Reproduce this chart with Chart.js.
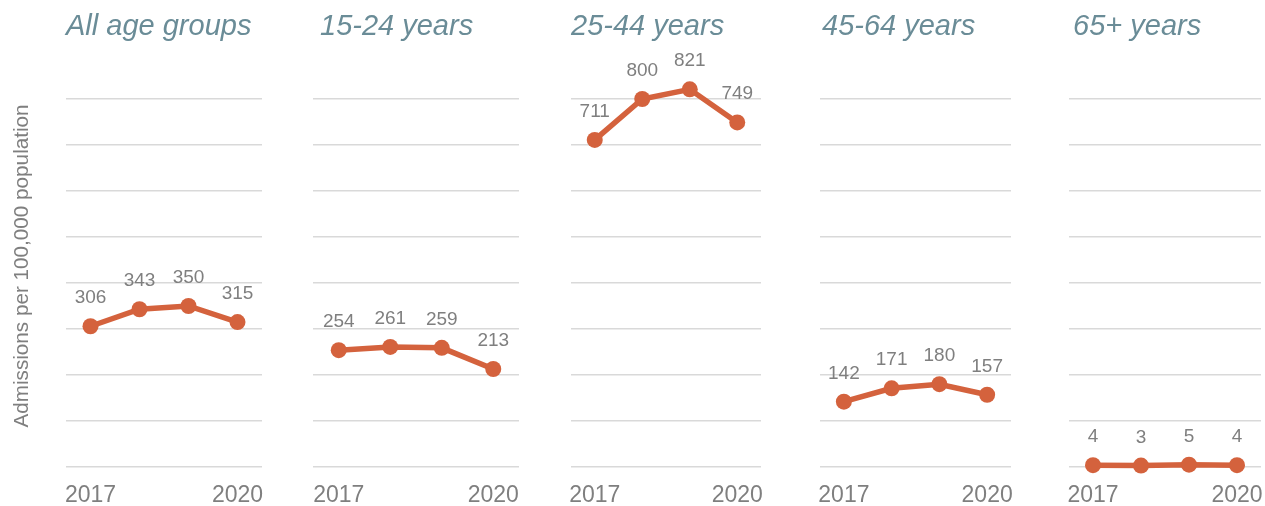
<!DOCTYPE html>
<html>
<head>
<meta charset="utf-8">
<script src="https://cdn.jsdelivr.net/npm/chart.js@4"></script>
<style>
  html, body { margin: 0; padding: 0; background: #fff; }
  body { width: 1265px; height: 506px; position: relative; overflow: hidden; }
  canvas { position: absolute; top: 0; }
</style>
</head>
<body>
<canvas id="c0"></canvas>
<canvas id="c1"></canvas>
<canvas id="c2"></canvas>
<canvas id="c3"></canvas>
<canvas id="c4"></canvas>
<script>
// Data
const years = ['2017', '2018', '2019', '2020'];
const groups = ['All age groups', '15-24 years', '25-44 years', '45-64 years', '65+ years'];
const allAges = [306, 343, 350, 315];
const age15to24 = [254, 261, 259, 213];
const age25to44 = [711, 800, 821, 749];
const age45to64 = [142, 171, 180, 157];
const age65plus = [4, 3, 5, 4];
const seriesList = [allAges, age15to24, age25to44, age45to64, age65plus];
const yTicks = [0, 100, 200, 300, 400, 500, 600, 700, 800];
const yTitle = 'Admissions per 100,000 population';

// panel plot areas [left, right] and title x
const panels = [[66, 262], [313, 519], [571, 761], [820, 1011], [1069, 1261]];
const titleX = [66, 320, 571, 822, 1073];

const lineColor = '#d4623d';
const greyText = '#7f7f7f';
const titleColor = '#6a8c97';
const fontFam = '"Liberation Sans", Arial, sans-serif';
const edge = 32;

// titles, value labels and the y title
const panelPlugin = {
    id: 'panelText',
    afterDatasetsDraw(chart, args, opts) {
        const ctx = chart.ctx;
        const meta = chart.getDatasetMeta(0);
        const vals = chart.data.datasets[0].data;
        ctx.save();
        ctx.font = '19px ' + fontFam;
        ctx.fillStyle = greyText;
        ctx.textAlign = 'center';
        ctx.textBaseline = 'alphabetic';
        meta.data.forEach(function(pt, i) {
            ctx.fillText(String(vals[i]), pt.x, pt.y - 23);
        });
        ctx.font = 'italic 29px ' + fontFam;
        ctx.fillStyle = titleColor;
        ctx.textAlign = 'left';
        ctx.fillText(opts.title, opts.titleX, 35);
        if (opts.yTitle) {
            ctx.translate(22, 266);
            ctx.rotate(-Math.PI / 2);
            ctx.font = '20.7px ' + fontFam;
            ctx.fillStyle = greyText;
            ctx.textAlign = 'center';
            ctx.textBaseline = 'middle';
            ctx.fillText(opts.yTitle, 0, 0);
        }
        ctx.restore();
    }
};

seriesList.forEach(function(values, idx) {
    const canvas = document.getElementById('c' + idx);
    const left = panels[idx][0], right = panels[idx][1];
    const canvasLeft = idx === 0 ? 0 : left - edge;
    const width = right + edge - canvasLeft;
    const height = 524;
    canvas.width = width;
    canvas.height = height;
    canvas.style.left = canvasLeft + 'px';
    canvas.style.width = width + 'px';
    canvas.style.height = height + 'px';

    new Chart(canvas.getContext('2d'), {
        type: 'line',
        data: {
            labels: years,
            datasets: [{
                data: values,
                borderColor: lineColor,
                backgroundColor: lineColor,
                borderWidth: 5.5,
                pointRadius: 8,
                pointBorderWidth: 0,
                pointBackgroundColor: lineColor,
                tension: 0,
                clip: false
            }]
        },
        options: {
            responsive: false,
            animation: false,
            devicePixelRatio: 1,
            layout: {
                padding: { left: left - canvasLeft, right: edge, top: 53, bottom: 0 }
            },
            plugins: {
                legend: { display: false },
                tooltip: { enabled: false },
                panelText: {
                    title: groups[idx],
                    titleX: titleX[idx] - canvasLeft,
                    yTitle: idx === 0 ? yTitle : null
                }
            },
            scales: {
                x: {
                    offset: true,
                    grid: { display: false, drawTicks: false },
                    border: { display: false },
                    ticks: {
                        autoSkip: false,
                        maxRotation: 0,
                        padding: 17,
                        color: greyText,
                        font: { family: fontFam, size: 23, lineHeight: 1 },
                        callback: function(v, i) {
                            return (i === 0 || i === years.length - 1) ? years[i] : '';
                        }
                    }
                },
                y: {
                    min: 0,
                    max: 900,
                    grid: { color: '#d9d9d9', lineWidth: 1.5, drawTicks: false },
                    border: { display: false },
                    ticks: { display: false, stepSize: 100 },
                    afterBuildTicks: function(scale) {
                        scale.ticks = yTicks.map(function(v) { return { value: v }; });
                    }
                }
            }
        },
        plugins: [panelPlugin]
    });
});
</script>
</body>
</html>
